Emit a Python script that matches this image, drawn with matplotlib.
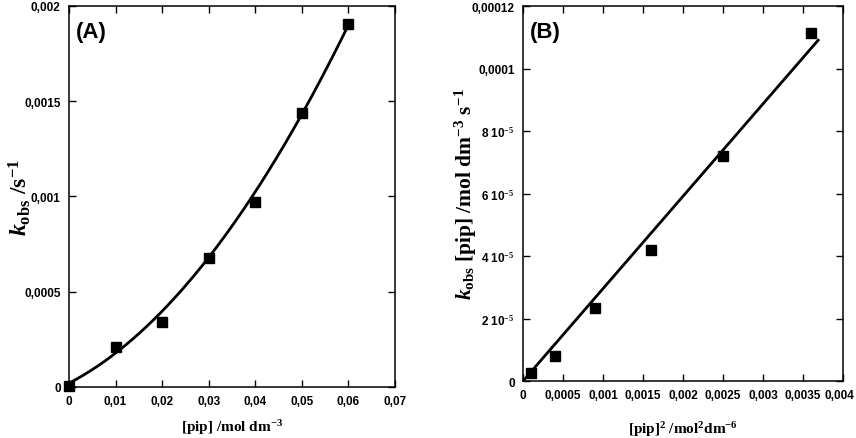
import numpy as np
import matplotlib.pyplot as plt
import matplotlib.transforms as mtransforms
from matplotlib.ticker import FixedLocator, FixedFormatter
from matplotlib import font_manager as fm

# panel A: kobs vs [pip]
pip_a = [0.0, 0.01, 0.02, 0.03, 0.04, 0.05, 0.06]
kobs_a = [0.000005, 0.000208, 0.000343, 0.000677, 0.000971, 0.001437, 0.001904]
# quadratic fit drawn through the points
fit_a = [0.00002, 0.01267, 0.311]  # a + b*x + c*x^2

# panel B: kobs[pip] vs [pip]^2
pip2_b = [0.0001, 0.0004, 0.0009, 0.0016, 0.0025, 0.0036]
kp_b = [2.5e-6, 8.1e-6, 2.34e-5, 4.19e-5, 7.19e-5, 1.113e-4]
fit_b = [0.0, 0.02957]  # intercept, slope
fit_b_end = 0.00369

xt_a = [0, 0.01, 0.02, 0.03, 0.04, 0.05, 0.06, 0.07]
xl_a = ['0', '0,01', '0,02', '0,03', '0,04', '0,05', '0,06', '0,07']
yt_a = [0, 0.0005, 0.001, 0.0015, 0.002]
yl_a = ['0', '0,0005', '0,001', '0,0015', '0,002']

xt_b = [0, 0.0005, 0.001, 0.0015, 0.002, 0.0025, 0.003, 0.0035, 0.004]
xl_b = ['0', '0,0005', '0,001', '0,0015', '0,002', '0,0025', '0,003', '0,0035', '0,004']
yt_b = [0, 2e-5, 4e-5, 6e-5, 8e-5, 1e-4, 1.2e-4]
yl_b = ['0', r'2 10$^{-5}$', r'4 10$^{-5}$', r'6 10$^{-5}$', r'8 10$^{-5}$', '0,0001', '0,00012']

plt.rcParams['mathtext.fontset'] = 'custom'
plt.rcParams['mathtext.rm'] = 'Liberation Serif:bold'
plt.rcParams['mathtext.it'] = 'Liberation Serif:italic:bold'
plt.rcParams['mathtext.bf'] = 'Liberation Serif:bold'

# narrow bold sans for the tick labels, if there is one
narrow = 'Liberation Sans'
for name in ['Liberation Sans Narrow', 'DejaVu Sans Condensed']:
    if any(f.name == name for f in fm.fontManager.ttflist):
        narrow = name
        break
tickfont = fm.FontProperties(family=narrow, weight='bold', size=9.5 if narrow != 'Liberation Sans' else 8.5)
labfont = {'family': 'Liberation Serif', 'weight': 'bold', 'size': 11}

fig = plt.figure(figsize=(8.56, 4.39), dpi=100)
ax1 = fig.add_axes([0.0806, 0.1162, 0.3808, 0.868])
ax2 = fig.add_axes([0.611, 0.1298, 0.3738, 0.854])


def style(ax, xt, xl, yt, yl):
    ax.xaxis.set_major_locator(FixedLocator(xt))
    ax.xaxis.set_major_formatter(FixedFormatter(xl))
    ax.yaxis.set_major_locator(FixedLocator(yt))
    ax.yaxis.set_major_formatter(FixedFormatter(yl))
    ax.tick_params(direction='in', length=5, width=1, top=True, right=True, pad=6)
    for lab in ax.get_xticklabels() + ax.get_yticklabels():
        lab.set_fontproperties(tickfont)
    for s in ax.spines.values():
        s.set_linewidth(1.1)


# panel A
xx = np.linspace(0, 0.06, 200)
ax1.plot(xx, fit_a[0] + fit_a[1] * xx + fit_a[2] * xx ** 2, color='black', lw=2)
ax1.plot(pip_a, kobs_a, 's', color='black', ms=6.5, clip_on=False)
ax1.set_xlim(0, 0.07)
ax1.set_ylim(0, 0.002)
style(ax1, xt_a, xl_a, yt_a, yl_a)
ax1.set_xlabel(r'[pip] /mol dm$^{-3}$', fontdict=labfont, va='center')
ax1.xaxis.set_label_coords(0.5, -0.105)
ax1.set_ylabel(r'$k_{\rm obs}$ /s$^{-1}$', fontdict=labfont, fontsize=17, va='center')
ax1.yaxis.set_label_coords(-0.15, 0.5)
ax1.text(0.02, 0.96, '(A)', transform=ax1.transAxes, fontsize=16, fontweight='bold',
         family='Liberation Sans', va='top')

# panel B
xb = np.linspace(0, fit_b_end, 50)
ax2.plot(xb, fit_b[0] + fit_b[1] * xb, color='black', lw=2)
ax2.plot(pip2_b, kp_b, 's', color='black', ms=6.5, clip_on=False)
ax2.set_xlim(0, 0.004)
ax2.set_ylim(0, 0.00012)
style(ax2, xt_b, xl_b, yt_b, yl_b)
# last x label sits at the figure edge, nudge it left a little so it fits
last = ax2.get_xticklabels()[-1]
last.set_transform(last.get_transform() + mtransforms.ScaledTranslation(-4 / 100, 0, fig.dpi_scale_trans))
ax2.set_xlabel(r'[pip]$^2$ /mol$^2$dm$^{-6}$', fontdict=labfont, va='center')
ax2.xaxis.set_label_coords(0.5, -0.128)
ax2.set_ylabel(r'$k_{\rm obs}$ [pip] /mol dm$^{-3}$ s$^{-1}$', fontdict=labfont, fontsize=15.5, va='center')
ax2.yaxis.set_label_coords(-0.18, 0.5)
ax2.text(0.02, 0.96, '(B)', transform=ax2.transAxes, fontsize=16, fontweight='bold',
         family='Liberation Sans', va='top')

fig.savefig('out.png', dpi=100)
